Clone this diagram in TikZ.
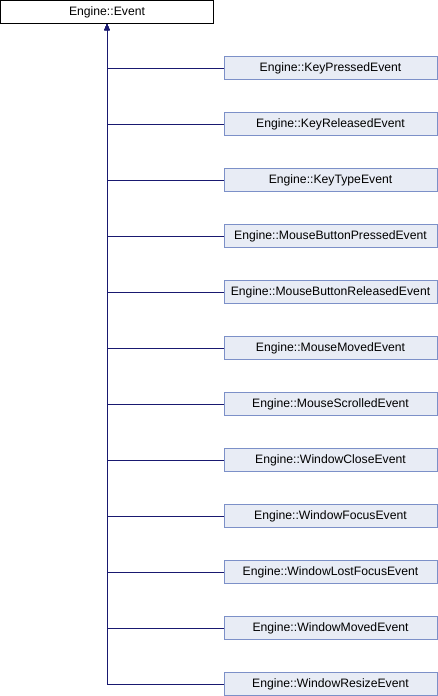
\documentclass[tikz,border=0pt]{standalone}
\usepackage{fontspec}
\setmainfont{Liberation Sans}
\usetikzlibrary{arrows.meta}
\definecolor{edgec}{HTML}{191970}
\definecolor{boxfill}{HTML}{E8ECF5}
\definecolor{boxline}{HTML}{7C90C8}
\begin{document}
\begin{tikzpicture}[x=1pt,y=-1pt,
  every node/.style={font=\fontsize{12.2}{14}\selectfont, inner sep=0pt, text=black},
  basebox/.style={draw=black, fill=white, line width=1pt, minimum width=213pt, minimum height=23pt},
  childbox/.style={draw=boxline, fill=boxfill, line width=1pt, minimum width=213pt, minimum height=23pt},
  inh/.style={draw=edgec, line width=1pt, -{Triangle[width=5pt,length=6pt]}}]
\useasboundingbox (0,0) rectangle (438,696);
\node[basebox] (base) at (107,12) {Engine::Event};
\foreach \name/\lab [count=\i from 0] in {
  c1/KeyPressedEvent, c2/KeyReleasedEvent, c3/KeyTypeEvent,
  c4/MouseButtonPressedEvent, c5/MouseButtonReleasedEvent, c6/MouseMovedEvent,
  c7/MouseScrolledEvent, c8/WindowCloseEvent, c9/WindowFocusEvent,
  c10/WindowLostFocusEvent, c11/WindowMovedEvent, c12/WindowResizeEvent} {
  \node[childbox] (\name) at (330.5,{68+56*\i}) {Engine::\lab};
  \draw[inh] (\name.west) -| (base.south);
}
\end{tikzpicture}
\end{document}
